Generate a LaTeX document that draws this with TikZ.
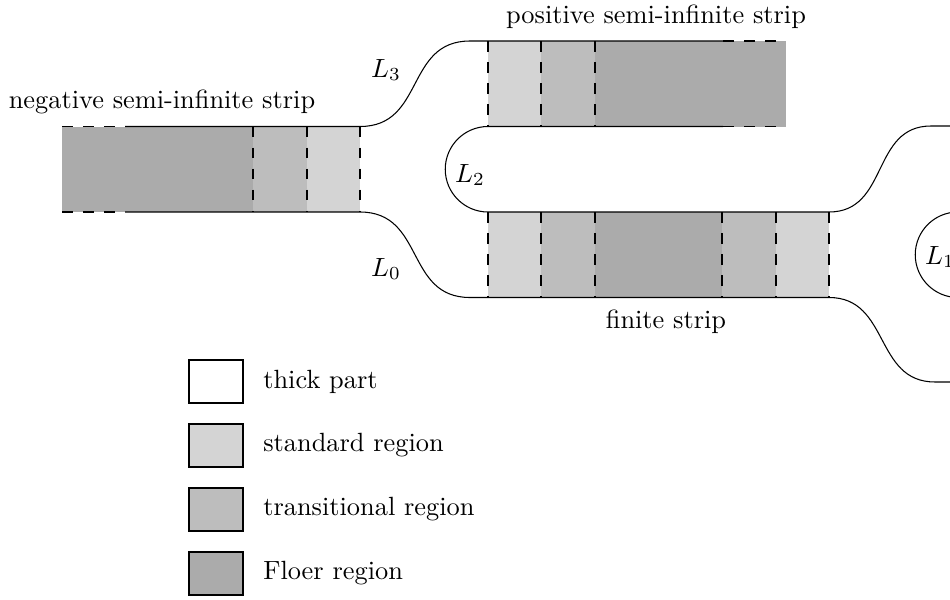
\documentclass[tikz,border=0pt]{standalone}
\usepackage{tikz}

\tikzset{
	stdreg/.style={fill=black!17},
	transreg/.style={fill=black!26},
	floerreg/.style={fill=black!33},
	cutline/.style={dash pattern=on 4pt off 4pt},
}

\begin{document}
\begin{tikzpicture}[x=3.795pt, y=-3.795pt]
			%%%%% START %%%%%
			\useasboundingbox (0, 0) rectangle (95, 60);
			\clip (0, 0) rectangle (95, 60);
			
			% negative semi-infinite strip
			\fill[floerreg] (6.2, 12.65) rectangle (25.3, 21.2);
			\fill[transreg] (25.3, 12.65) rectangle (30.7, 21.2);
			\fill[stdreg] (30.7, 12.65) rectangle (36.0, 21.2);
			
			% positive semi-infinite strip
			\fill[stdreg] (48.8, 4.1) rectangle (54.1, 12.65);
			\fill[transreg] (54.1, 4.1) rectangle (59.5, 12.65);
			\fill[floerreg] (59.5, 4.1) rectangle (78.6, 12.65);
			
			% finite strip
			\fill[stdreg] (48.8, 21.2) rectangle (54.1, 29.75);
			\fill[transreg] (54.1, 21.2) rectangle (59.5, 29.75);
			\fill[floerreg] (59.5, 21.2) rectangle (72.2, 29.75);
			\fill[transreg] (72.2, 21.2) rectangle (77.6, 29.75);
			\fill[stdreg] (77.6, 21.2) rectangle (82.9, 29.75);
			
			\draw[cutline] (25.3, 12.65) -- (25.3, 21.2);
			\draw[cutline] (30.7, 12.65) -- (30.7, 21.2);
			\draw[cutline] (36.0, 12.65) -- (36.0, 21.2);
			
			\draw[cutline] (48.8, 4.1) -- (48.8, 12.65);
			\draw[cutline] (54.1, 4.1) -- (54.1, 12.65);
			\draw[cutline] (59.5, 4.1) -- (59.5, 12.65);
			
			\draw[cutline] (48.8, 21.2) -- (48.8, 29.75);
			\draw[cutline] (54.1, 21.2) -- (54.1, 29.75);
			\draw[cutline] (59.5, 21.2) -- (59.5, 29.75);
			\draw[cutline] (72.2, 21.2) -- (72.2, 29.75);
			\draw[cutline] (77.6, 21.2) -- (77.6, 29.75);
			\draw[cutline] (82.9, 21.2) -- (82.9, 29.75);
			
			% L3
			\draw[cutline] (6.2, 12.65) -- (12.5, 12.65);
			\draw (12.5, 12.65) -- (36.0, 12.65) .. controls (42.5, 12.65) and (40.5, 4.1) .. (47.0, 4.1) -- (72.3, 4.1);
			\draw[cutline] (72.3, 4.1) -- (78.6, 4.1);
			
			% L0
			\draw[cutline] (6.2, 21.2) -- (12.5, 21.2);
			\draw (12.5, 21.2) -- (36.0, 21.2) .. controls (42.5, 21.2) and (40.5, 29.75) .. (47.0, 29.75) -- (82.9, 29.75) .. controls (89.0, 29.75) and (87.4, 38.2) .. (93.5, 38.2) -- (95, 38.2);
			
			% L2
			\draw[cutline] (72.3, 12.65) -- (78.6, 12.65);
			\draw (72.3, 12.65) -- (48.8, 12.65) arc (270:90:4.275) -- (82.9, 21.2) .. controls (88.9, 21.2) and (87.1, 12.6) .. (93.1, 12.6) -- (95, 12.6);
			
			% L1
			\draw (95.8, 21.2) arc (270:90:4.275);
			
			\node (lthree) at (38.6, 7.0) {$L_3$};
			\node (lzero) at (38.6, 26.9) {$L_0$};
			\node (ltwo) at (47.0, 17.5) {$L_2$};
			\node (lone) at (94.0, 25.7) {$L_1$};
			
			\node[anchor=base] (negstrip) at (16.2, 10.8) {negative semi-infinite strip};
			\node[anchor=base] (posstrip) at (65.6, 2.35) {positive semi-infinite strip};
			\node[anchor=base] (finstrip) at (66.6, 32.8) {finite strip};
			
			% legend
			\draw[fill=white] (18.9, 36.0) rectangle (24.3, 40.3);
			\draw[stdreg] (18.9, 42.4) rectangle (24.3, 46.7);
			\draw[transreg] (18.9, 48.8) rectangle (24.3, 53.1);
			\draw[floerreg] (18.9, 55.2) rectangle (24.3, 59.5);
			
			\node[anchor=west] (thick) at (25.4, 38.15) {thick part};
			\node[anchor=west] (standard) at (25.4, 44.55) {standard region};
			\node[anchor=west] (transitional) at (25.4, 50.95) {transitional region};
			\node[anchor=west] (floer) at (25.4, 57.35) {Floer region};
			
			%%%%% END %%%%%
\end{tikzpicture}
\end{document}
